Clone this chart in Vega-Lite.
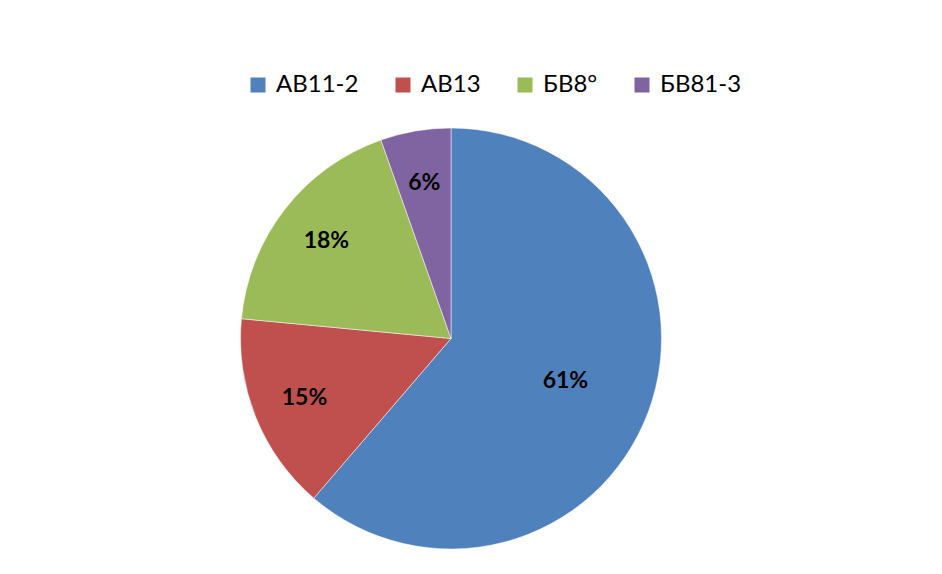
{
  "$schema": "https://vega.github.io/schema/vega-lite/v6.json",
  "width": 902,
  "height": 421,
  "autosize": {"type": "none"},
  "padding": {"left": 0, "top": 128, "right": 40, "bottom": 25},
  "background": "#ffffff",
  "data": {
    "values": [
      {"name": "АВ11-2", "value": 61.3, "idx": 1, "label": "61%"},
      {"name": "АВ13", "value": 15.2, "idx": 2, "label": "15%"},
      {"name": "БВ8°", "value": 18.1, "idx": 3, "label": "18%"},
      {"name": "БВ81-3", "value": 5.4, "idx": 4, "label": "6%"}
    ]
  },
  "encoding": {
    "theta": {"field": "value", "type": "quantitative", "stack": true},
    "order": {"field": "idx", "type": "quantitative"}
  },
  "layer": [
    {
      "mark": {"type": "arc", "stroke": "#ffffff", "strokeWidth": 0.5},
      "encoding": {
        "color": {
          "field": "name",
          "type": "nominal",
          "scale": {
            "domain": ["АВ11-2", "АВ13", "БВ8°", "БВ81-3"],
            "range": ["#4F81BD", "#C0504D", "#9BBB59", "#8064A2"]
          },
          "legend": {
            "title": null,
            "orient": "none",
            "direction": "horizontal",
            "legendX": 246,
            "legendY": -55,
            "padding": 0,
            "symbolType": "square",
            "symbolSize": 225,
            "symbolStrokeWidth": 0,
            "symbolOpacity": 1,
            "labelFont": "Lato",
            "labelFontSize": 24,
            "labelColor": "#000000",
            "labelOffset": 6,
            "columnPadding": 32,
            "labelLimit": 300
          }
        }
      }
    },
    {
      "mark": {"type": "text", "radius": 158, "font": "Lato", "fontWeight": "bold", "fontSize": 23, "color": "#000000"},
      "encoding": {
        "text": {"condition": {"test": "datum.idx == 1", "value": ""}, "field": "label"}
      }
    },
    {
      "mark": {"type": "text", "radius": 122, "font": "Lato", "fontWeight": "bold", "fontSize": 23, "color": "#000000"},
      "encoding": {
        "text": {"condition": {"test": "datum.idx != 1", "value": ""}, "field": "label"}
      }
    }
  ]
}
